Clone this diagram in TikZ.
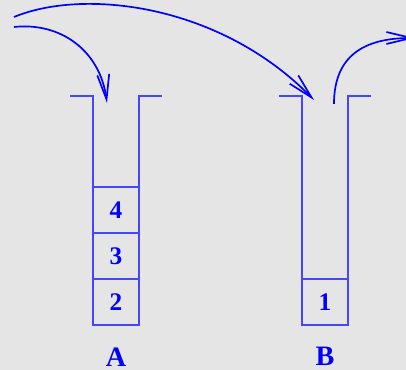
\documentclass[tikz,border=0pt]{standalone}
\usepackage{fontspec}
\setmainfont{Liberation Serif}
\usepackage{xcolor}
\usetikzlibrary{positioning}
\usetikzlibrary{arrows.meta}
\definecolor{bggray}{RGB}{229,229,229}
\definecolor{stackblue}{RGB}{70,70,255}
\def\thickness{very thick}
\tikzset{
cell/.style={draw=stackblue, line width=0.9pt, minimum width=1.15cm, minimum height=1.15cm,
	inner sep=0pt, outer sep=0pt, text=blue, font=\fontsize{18}{20}\selectfont\bfseries},
wall/.style={draw=stackblue, line width=0.9pt},
stackname/.style={text=blue, inner sep=0pt, font=\fontsize{20}{22}\selectfont\bfseries},
flow/.style={draw=blue, \thickness, -{Straight Barb[length=0.625cm, width=0.3cm]}},
}

\begin{document}
\begin{tikzpicture}
\fill[bggray] (0,0) rectangle (10.15,9.25);
\useasboundingbox (0,0) rectangle (10.15,9.25);

%Place the nodes
\node[cell] (a2) at (2.9,1.7) {2};
\foreach \j in {3, 4} {
	\pgfmathtruncatemacro{\jn}{(\j-1)}%
	\node[cell, above=0cm of a\jn] (a\j) {\j};
}
\node[cell] (b1) at (8.125,1.7) {1};

\node[stackname] (A) at (2.9,0.33) {A};
\node[stackname] (B) at (8.125,0.33) {B};

%Stack walls
\draw[wall] (1.75,6.85) -- (2.325,6.85) -- (2.325,1.125) -- (3.475,1.125) -- (3.475,6.85) -- (4.05,6.85);
\draw[wall] (6.975,6.85) -- (7.55,6.85) -- (7.55,1.125) -- (8.7,1.125) -- (8.7,6.85) -- (9.275,6.85);

%Ends of the arrows
\coordinate (inlow) at (0.35,8.575);
\coordinate (inhigh) at (0.35,8.825);
\coordinate (intoA) at (2.675,6.675);
\coordinate (intoB) at (7.85,6.75);
\coordinate (outB) at (8.35,6.65);
\coordinate (away) at (10.375,8.3);

\draw[flow] (inlow) .. controls (1.5,8.7) and (2.5,8.0) .. (intoA);
\draw[flow] (inhigh) .. controls (2.1,9.55) and (5.5,9.15) .. (intoB);
\draw[flow] (outB) .. controls (8.35,7.875) and (9.125,8.3) .. (away);

\end{tikzpicture}
\end{document}
